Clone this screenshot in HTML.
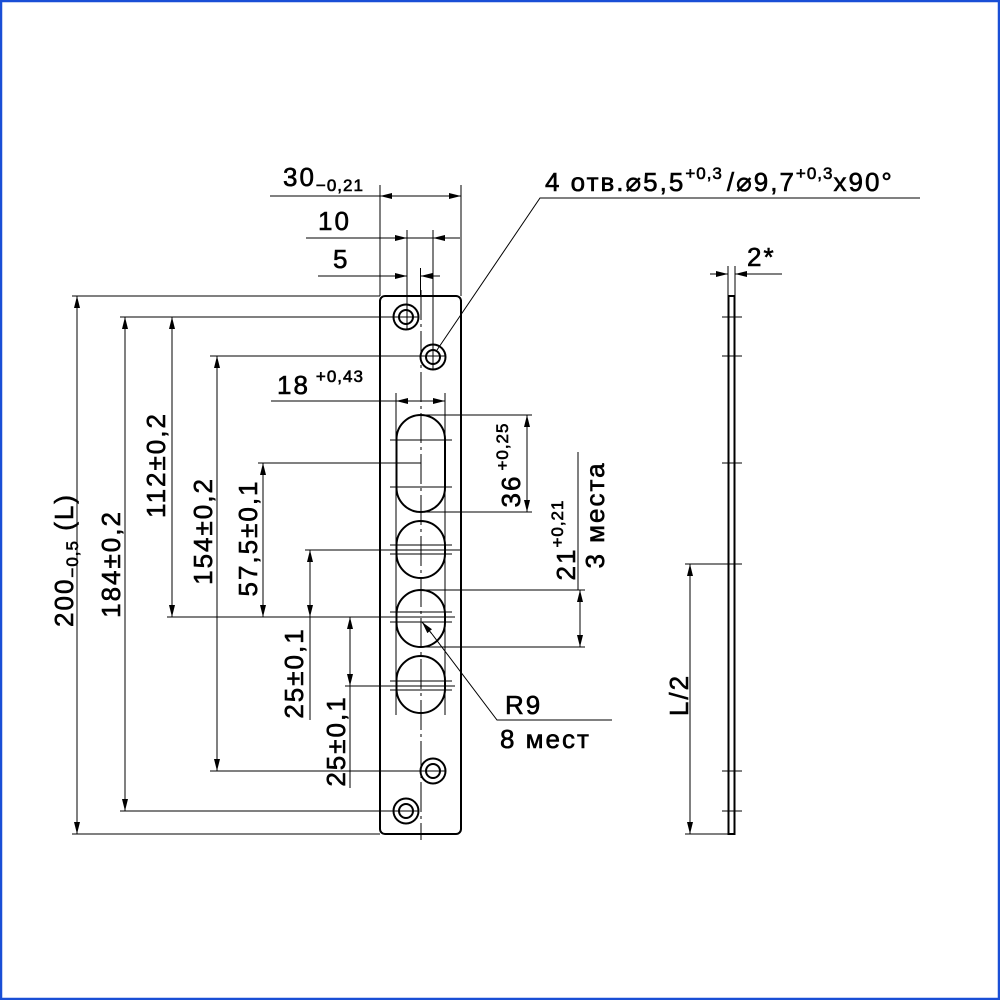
<!DOCTYPE html>
<html><head><meta charset="utf-8"><style>
html,body{margin:0;padding:0;background:#fff}
svg{display:block}
text{font-family:"Liberation Sans",sans-serif;fill:#000;stroke:#000;stroke-width:0.6;letter-spacing:2px}
</style></head><body>
<svg width="1000" height="1000" viewBox="0 0 1000 1000" xmlns="http://www.w3.org/2000/svg">
<defs>
<marker id="a" viewBox="0 0 12 6" refX="12" refY="3" markerWidth="12" markerHeight="6" markerUnits="userSpaceOnUse" orient="auto-start-reverse"><path d="M0,0 L12,3 L0,6 z" fill="#000"/></marker>
</defs>
<rect x="1" y="1" width="998" height="998" fill="none" stroke="#1a4fd6" stroke-width="2.5"/>
<g stroke="#000" stroke-width="1" fill="none">
<line x1="380" y1="185" x2="380" y2="296"/>
<line x1="461" y1="185" x2="461" y2="296"/>
<line x1="407" y1="230" x2="407" y2="330"/>
<line x1="433" y1="230" x2="433" y2="370"/>
<line x1="420.5" y1="268" x2="420.5" y2="296"/>
<line x1="270" y1="196" x2="380" y2="196"/>
<line x1="380" y1="196" x2="461" y2="196" marker-start="url(#a)" marker-end="url(#a)"/>
<line x1="306" y1="238" x2="407" y2="238" marker-end="url(#a)"/>
<line x1="433" y1="238" x2="460" y2="238" marker-start="url(#a)"/>
<line x1="407" y1="238" x2="433" y2="238"/>
<line x1="318" y1="276" x2="407" y2="276" marker-end="url(#a)"/>
<line x1="420.5" y1="276" x2="440" y2="276" marker-start="url(#a)"/>
<polyline points="437,350 540,198 920,198"/>
<line x1="72" y1="296" x2="380" y2="296"/>
<line x1="120" y1="317" x2="418" y2="317"/>
<line x1="210" y1="356" x2="446" y2="356"/>
<line x1="258" y1="463" x2="421" y2="463"/>
<line x1="305" y1="550" x2="462" y2="550"/>
<line x1="167" y1="617" x2="455" y2="617"/>
<line x1="345" y1="686" x2="455" y2="686"/>
<line x1="210" y1="771" x2="446" y2="771"/>
<line x1="120" y1="811" x2="418" y2="811"/>
<line x1="72" y1="834" x2="380" y2="834"/>
<line x1="77" y1="296" x2="77" y2="834" marker-start="url(#a)" marker-end="url(#a)"/>
<line x1="125" y1="317" x2="125" y2="811" marker-start="url(#a)" marker-end="url(#a)"/>
<line x1="172" y1="317" x2="172" y2="617" marker-start="url(#a)" marker-end="url(#a)"/>
<line x1="217" y1="356" x2="217" y2="771" marker-start="url(#a)" marker-end="url(#a)"/>
<line x1="263" y1="463" x2="263" y2="617" marker-start="url(#a)" marker-end="url(#a)"/>
<line x1="310" y1="550" x2="310" y2="617" marker-start="url(#a)" marker-end="url(#a)"/>
<line x1="310" y1="617" x2="310" y2="720"/>
<line x1="350" y1="617" x2="350" y2="686" marker-start="url(#a)" marker-end="url(#a)"/>
<line x1="350" y1="686" x2="350" y2="788"/>
<line x1="396" y1="393" x2="396" y2="715"/>
<line x1="445" y1="393" x2="445" y2="715"/>
<line x1="271" y1="401" x2="396" y2="401"/>
<line x1="396" y1="401" x2="445" y2="401" marker-start="url(#a)" marker-end="url(#a)"/>
<line x1="421" y1="415" x2="532" y2="415"/>
<line x1="421" y1="512" x2="532" y2="512"/>
<line x1="527" y1="415" x2="527" y2="512" marker-start="url(#a)" marker-end="url(#a)"/>
<line x1="421" y1="590" x2="585" y2="590"/>
<line x1="421" y1="647" x2="585" y2="647"/>
<line x1="578" y1="452" x2="578" y2="590"/>
<line x1="580" y1="590" x2="580" y2="647" marker-start="url(#a)" marker-end="url(#a)"/>
<line x1="390" y1="440" x2="452" y2="440"/>
<line x1="390" y1="487" x2="452" y2="487"/>
<line x1="390" y1="545" x2="452" y2="545"/>
<line x1="390" y1="554" x2="452" y2="554"/>
<line x1="390" y1="612" x2="452" y2="612"/>
<line x1="390" y1="622" x2="452" y2="622"/>
<line x1="390" y1="681" x2="452" y2="681"/>
<line x1="390" y1="690" x2="452" y2="690"/>
<line x1="421" y1="290" x2="421" y2="840" stroke-dasharray="30,4,3,4"/>
<line x1="422" y1="622" x2="432" y2="634" marker-start="url(#a)"/>
<polyline points="432,634 497,720 612,720"/>
<line x1="728" y1="266" x2="728" y2="296"/>
<line x1="735" y1="266" x2="735" y2="296"/>
<line x1="710" y1="274" x2="728" y2="274" marker-end="url(#a)"/>
<line x1="735" y1="274" x2="782" y2="274" marker-start="url(#a)"/>
<line x1="685" y1="564" x2="742" y2="564"/>
<line x1="685" y1="834" x2="728" y2="834"/>
<line x1="690" y1="564" x2="690" y2="834" marker-start="url(#a)" marker-end="url(#a)"/>
<line x1="722" y1="317" x2="742" y2="317"/><line x1="722" y1="356" x2="742" y2="356"/>
<line x1="722" y1="463" x2="742" y2="463"/><line x1="722" y1="771" x2="742" y2="771"/>
<line x1="722" y1="811" x2="742" y2="811"/>
</g>
<g stroke="#000" stroke-width="2" fill="none">
<rect x="380" y="296" width="81" height="538" rx="5"/>
<rect x="396.5" y="415" width="48.5" height="97" rx="24.25"/>
<rect x="396.5" y="521" width="48.5" height="57" rx="24.25"/>
<rect x="396.5" y="590" width="48.5" height="57" rx="24.25"/>
<rect x="396.5" y="656" width="48.5" height="57" rx="24.25"/>
<circle cx="406" cy="317" r="12.5"/><circle cx="406" cy="317" r="7"/>
<circle cx="433" cy="357" r="12.5"/><circle cx="433" cy="357" r="7"/>
<circle cx="433" cy="771" r="12.5"/><circle cx="433" cy="771" r="7"/>
<circle cx="406" cy="811" r="12.5"/><circle cx="406" cy="811" r="7"/>
<rect x="728.5" y="296" width="6" height="538"/>
</g>
<g font-size="26">
<text x="283" y="186">30<tspan font-size="17" dy="5" style="letter-spacing:1px">−0,21</tspan></text>
<text x="318" y="230">10</text>
<text x="333" y="268">5</text>
<text x="277" y="394">18<tspan font-size="17" dx="6" dy="-12" style="letter-spacing:1px">+0,43</tspan></text>
<text x="545" y="191">4  отв.⌀5,5<tspan font-size="17" dy="-12" style="letter-spacing:1px">+0,3</tspan><tspan dx="4" dy="12">/⌀9,7</tspan><tspan font-size="17" dy="-12" style="letter-spacing:1px">+0,3</tspan><tspan dy="12">x90°</tspan></text>
<text x="747" y="266">2*</text>
<text x="505" y="714">R9</text>
<text x="500" y="748">8  мест</text>
<text transform="translate(73,560) rotate(-90)" text-anchor="middle">200<tspan font-size="17" dy="5" style="letter-spacing:1px">−0,5</tspan><tspan dy="-5">   (L)</tspan></text>
<text transform="translate(120,564) rotate(-90)" text-anchor="middle">184±0,2</text>
<text transform="translate(165,465) rotate(-90)" text-anchor="middle">112±0,2</text>
<text transform="translate(212,531) rotate(-90)" text-anchor="middle">154±0,2</text>
<text transform="translate(257,538) rotate(-90)" text-anchor="middle">57,5±0,1</text>
<text transform="translate(303,673) rotate(-90)" text-anchor="middle">25±0,1</text>
<text transform="translate(345,741) rotate(-90)" text-anchor="middle">25±0,1</text>
<text transform="translate(520,465) rotate(-90)" text-anchor="middle">36<tspan font-size="17" dx="4" dy="-12" style="letter-spacing:1px">+0,25</tspan></text>
<text transform="translate(575,540) rotate(-90)" text-anchor="middle">21<tspan font-size="17" dy="-12" style="letter-spacing:1px">+0,21</tspan></text>
<text transform="translate(604,515) rotate(-90)" text-anchor="middle">3 места</text>
<text transform="translate(688,695) rotate(-90)" text-anchor="middle">L/2</text>
</g>
</svg>
</body></html>
